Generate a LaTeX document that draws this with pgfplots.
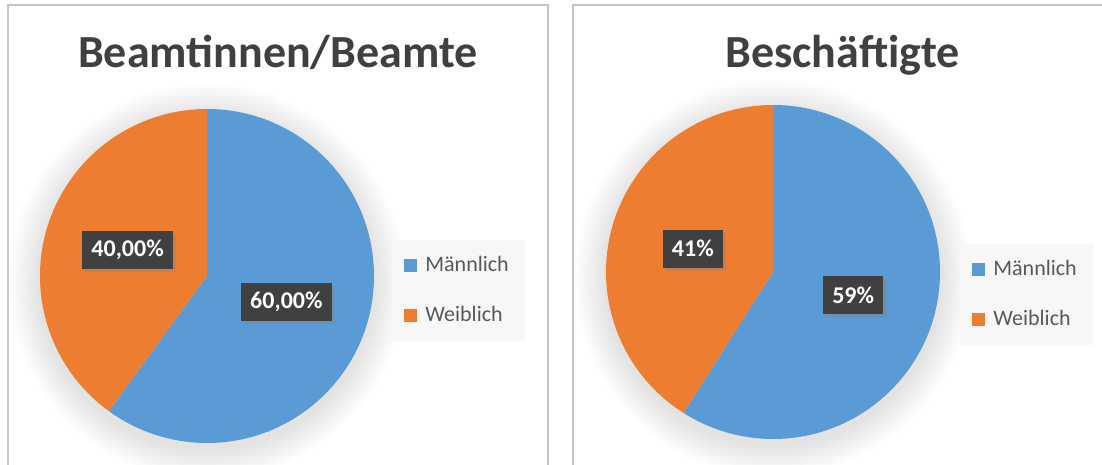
\documentclass[border=0pt]{standalone}
\usepackage{fontspec}
\setmainfont{Carlito}
\usepackage{pgfplots}
\pgfplotsset{compat=1.18}
\usetikzlibrary{shadows}

\definecolor{mblue}{HTML}{5B9BD5}
\definecolor{morange}{HTML}{ED7D31}
\definecolor{titlegray}{HTML}{404040}
\definecolor{lblbg}{HTML}{404040}
\definecolor{legtext}{HTML}{595959}
\definecolor{legbg}{HTML}{F7F7F7}
\definecolor{bordergray}{HTML}{C6C6C6}

% data: share of men (percent)
\newcommand\valBeamte{60}
\newcommand\valBesch{59}

\pgfplotsset{panel/.style={
  at={(0,0)}, anchor=south west, scale only axis, width=551pt, height=232.5pt,
  xmin=0, xmax=1102, ymin=0, ymax=465, hide axis, clip=false,
  legend cell align=left,
  legend image code/.code={\fill[##1, draw=none] (0pt,-3.25pt) rectangle (6.5pt,3.25pt);},
  legend style={anchor=north west, fill=legbg, draw=none,
    font=\fontsize{11}{13}\selectfont, text=legtext,
    row sep=12pt, inner xsep=6pt, inner ysep=6pt,
    /tikz/every odd column/.append style={column sep=2pt}},
}}
\tikzset{lbl/.style={fill=lblbg, text=white, font=\fontsize{12}{14}\selectfont\bfseries,
  inner xsep=4.6pt, inner ysep=0pt, minimum height=19pt,
  drop shadow={shadow xshift=1.6pt, shadow yshift=-1.6pt, opacity=0.35}}}

\begin{document}
\begin{tikzpicture}
\useasboundingbox (0,0) rectangle (551pt,232.5pt);
\clip (0,0) rectangle (551pt,232.5pt);
\fill[white] (0,0) rectangle (551pt,232.5pt);

% ---------- left panel ----------
\pgfmathsetmacro\aEnd{90-3.6*\valBeamte}
\pgfmathsetmacro\aMidB{90-1.8*\valBeamte}
\pgfmathsetmacro\aMidO{\aEnd-1.8*(100-\valBeamte)}
\begin{axis}[panel, legend style={at={(0.3557,0.4839)}}]
\addlegendimage{fill=mblue}\addlegendentry{Männlich}
\addlegendimage{fill=morange}\addlegendentry{Weiblich}
\draw[bordergray, line width=0.7pt] (axis cs:8,-5) -- (axis cs:8,460) -- (axis cs:548,460) -- (axis cs:548,-5);
\node[anchor=base, font=\fontsize{23}{28}\selectfont\bfseries, text=titlegray] at (axis cs:278,397) {Beamtinnen/Beamte};
\pgfplotsinvokeforeach{1,...,14}{\fill[black, opacity=0.009] (axis cs:207,183) circle[radius={83.5pt+#1*1.1pt}];}
\fill[mblue] (axis cs:207,189) -- ++(90:83.5pt) arc[start angle=90, end angle=\aEnd, radius=83.5pt] -- cycle;
\fill[morange] (axis cs:207,189) -- ++(\aEnd:83.5pt) arc[start angle=\aEnd, end angle=-270, radius=83.5pt] -- cycle;
\path (axis cs:207,189) ++(\aMidB:41.75pt) node[lbl] {60,00\%};
\path (axis cs:207,189) ++(\aMidO:41.75pt) node[lbl] {40,00\%};
\end{axis}

% ---------- right panel ----------
\pgfmathsetmacro\bEnd{90-3.6*\valBesch}
\pgfmathsetmacro\bMidB{90-1.8*\valBesch}
\pgfmathsetmacro\bMidO{\bEnd-1.8*(100-\valBesch)}
\begin{axis}[panel, legend style={at={(0.8711,0.4753)}}]
\addlegendimage{fill=mblue}\addlegendentry{Männlich}
\addlegendimage{fill=morange}\addlegendentry{Weiblich}
\draw[bordergray, line width=0.7pt] (axis cs:573,-5) -- (axis cs:573,460) -- (axis cs:1110,460);
\node[anchor=base, font=\fontsize{23}{28}\selectfont\bfseries, text=titlegray] at (axis cs:842.5,397) {Beschäftigte};
\pgfplotsinvokeforeach{1,...,14}{\fill[black, opacity=0.009] (axis cs:773,187) circle[radius={83.5pt+#1*1.1pt}];}
\fill[mblue] (axis cs:773,193) -- ++(90:83.5pt) arc[start angle=90, end angle=\bEnd, radius=83.5pt] -- cycle;
\fill[morange] (axis cs:773,193) -- ++(\bEnd:83.5pt) arc[start angle=\bEnd, end angle=-270, radius=83.5pt] -- cycle;
\path (axis cs:773,193) ++(\bMidB:41.75pt) node[lbl] {59\%};
\path (axis cs:773,193) ++(\bMidO:41.75pt) node[lbl] {41\%};
\end{axis}
\end{tikzpicture}
\end{document}
